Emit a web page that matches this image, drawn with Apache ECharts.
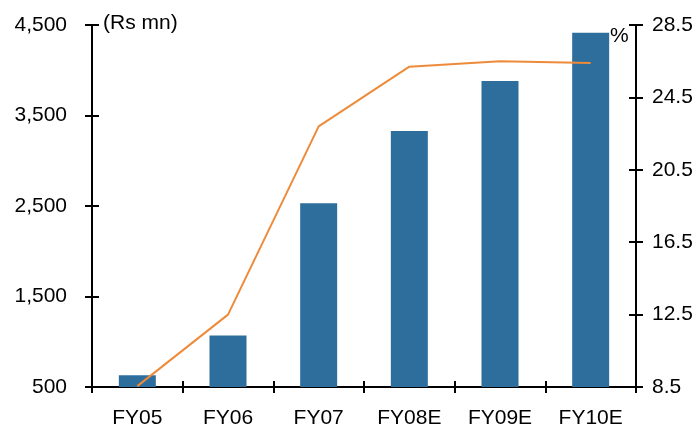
<!DOCTYPE html>
<html>
<head>
<meta charset="utf-8">
<script src="https://cdn.jsdelivr.net/npm/echarts@6/dist/echarts.min.js"></script>
<style>
  html, body { margin: 0; padding: 0; background: #fff; }
  #chart { width: 697px; height: 427px; }
</style>
</head>
<body>
<div id="chart"></div>
<script>
// Fiscal years
const categories = ['FY05', 'FY06', 'FY07', 'FY08E', 'FY09E', 'FY10E'];
// Revenue in Rs mn (bars, left axis)
const revenue = [630, 1070, 2530, 3330, 3880, 4415];
// Margin in % (line, right axis)
const margin = [8.55, 12.5, 22.9, 26.2, 26.5, 26.4];
// Axis scales
const leftAxis = { min: 500, max: 4500, interval: 1000 };
const rightAxis = { min: 8.5, max: 28.5, interval: 4 };

const FONT = 'Liberation Sans, Arial, sans-serif';
const FS = 21;
const axisLine = { show: true, lineStyle: { color: '#000', width: 2 } };

function yAxisPair(cfg, position, labels, inside, fmt) {
  return {
    type: 'value', position: position,
    min: cfg.min, max: cfg.max, interval: cfg.interval,
    axisLine: axisLine,
    axisTick: { show: true, inside: inside, length: 7, lineStyle: { color: '#000', width: 2 } },
    splitLine: { show: false },
    axisLabel: labels ? {
      show: true, color: '#000', fontFamily: FONT, fontSize: FS,
      margin: position === 'left' ? 25 : 16,
      formatter: fmt
    } : { show: false }
  };
}

const chart = echarts.init(document.getElementById('chart'), null, { renderer: 'canvas' });
chart.setOption({
  animation: false,
  grid: { left: 92, right: 61, top: 25, bottom: 40, containLabel: false, outerBoundsMode: 'none' },
  xAxis: [
    {
      type: 'category', data: categories, position: 'bottom',
      axisLine: axisLine,
      axisTick: { show: true, inside: false, length: 6, lineStyle: { color: '#000', width: 2 } },
      axisLabel: { color: '#000', fontFamily: FONT, fontSize: FS, margin: 21 }
    },
    {
      type: 'category', data: categories, position: 'bottom',
      axisLine: axisLine,
      axisTick: { show: true, inside: true, length: 6, lineStyle: { color: '#000', width: 2 } },
      axisLabel: { show: false }
    }
  ],
  yAxis: [
    yAxisPair(leftAxis, 'left', true, false, v => v.toLocaleString('en-US')),
    yAxisPair(rightAxis, 'right', true, false, v => v.toFixed(1)),
    yAxisPair(leftAxis, 'left', false, true),
    yAxisPair(rightAxis, 'right', false, true)
  ],
  graphic: [
    {
      type: 'text', left: 103, top: 13,
      style: { text: '(Rs mn)', fill: '#000', font: FS + 'px ' + FONT }
    },
    {
      type: 'text', left: 610, top: 26,
      style: { text: '%', fill: '#000', font: FS + 'px ' + FONT }
    }
  ],
  series: [
    {
      type: 'bar', data: revenue, xAxisIndex: 0, yAxisIndex: 0,
      barWidth: 37,
      itemStyle: { color: '#2E6E9C' }
    },
    {
      type: 'line', data: margin, xAxisIndex: 0, yAxisIndex: 1,
      symbol: 'none',
      lineStyle: { color: '#EE8B3A', width: 2 }
    }
  ]
});
</script>
</body>
</html>
